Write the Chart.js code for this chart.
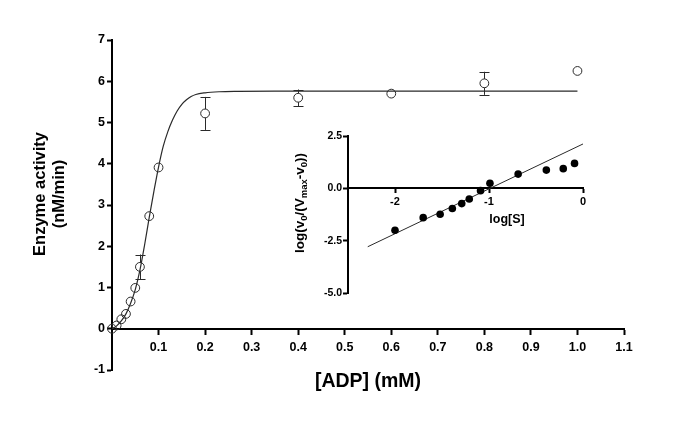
<!DOCTYPE html>
<html><head><meta charset="utf-8">
<script src="https://cdn.jsdelivr.net/npm/chart.js@4.4.1/dist/chart.umd.min.js"></script>
<style>
html,body{margin:0;padding:0;background:#fff;}
#wrap{position:relative;width:685px;height:422px;}
canvas{position:absolute;left:0;top:0;}
</style></head><body>
<div id="wrap"><canvas id="main" width="685" height="422" style="width:685px;height:422px"></canvas><canvas id="inset" width="685" height="422" style="width:685px;height:422px;pointer-events:none"></canvas></div>
<script>
// ---- Main plot data ----
const adp      = [0, 0.01, 0.02, 0.03, 0.04, 0.05, 0.06, 0.08, 0.1, 0.2, 0.4, 0.6, 0.8, 1.0];
const activity = [0, 0.08, 0.23, 0.36, 0.66, 0.99, 1.50, 2.73, 3.91, 5.22, 5.60, 5.70, 5.95, 6.25];
const errBar   = [0, 0, 0, 0, 0, 0, 0.30, 0, 0, 0.40, 0.20, 0, 0.28, 0];
// fitted curve
const fitX = [0, 0.01, 0.02, 0.03, 0.04, 0.05, 0.06, 0.07, 0.08, 0.09, 0.1, 0.11, 0.12, 0.13, 0.14, 0.15, 0.16, 0.17, 0.18, 0.2, 0.23, 0.27, 0.35, 0.5, 1.0];
const fitY = [0, 0.07, 0.19, 0.36, 0.62, 0.95, 1.42, 2.03, 2.70, 3.33, 3.92, 4.42, 4.78, 5.06, 5.28, 5.44, 5.55, 5.63, 5.68, 5.72, 5.745, 5.755, 5.76, 5.76, 5.76];
const mainXTicks = [0.1, 0.2, 0.3, 0.4, 0.5, 0.6, 0.7, 0.8, 0.9, 1.0, 1.1];
const mainYTicks = [-1, 0, 1, 2, 3, 4, 5, 6, 7];

// ---- Inset (Hill plot) data ----
const logS     = [-2.00, -1.70, -1.52, -1.39, -1.29, -1.21, -1.09, -0.99, -0.69, -0.39, -0.21, -0.09];
const logRatio = [-2.00, -1.40, -1.24, -0.96, -0.73, -0.51, -0.11, 0.24, 0.68, 0.87, 0.94, 1.19];
const hillLineX = [-2.29, 0];
const hillLineY = [-2.79, 2.12];
const insetXTicks = [-2, -1, 0];
const insetYTicks = [-5, -2.5, 0, 2.5];

// ---- Text ----
const mainYTitle = ['Enzyme activity', '(nM/min)'];
const mainXTitle = '[ADP] (mM)';
const insetXTitle = 'log[S]';
const insetYTitleRuns = [['log(v', 0], ['0', 1], ['/(V', 0], ['max', 1], ['-v', 0], ['0', 1], ['))', 0]];

const FONT = "'Liberation Sans', Arial, Helvetica, sans-serif";
const INK = '#000';
const LINE = '#2a2a2a';

function pts(xs, ys) { return xs.map((x, i) => ({x: x, y: ys[i]})); }

const errorBarPlugin = {
  id: 'errorBars',
  afterDatasetsDraw(chart) {
    const ctx = chart.ctx, xs = chart.scales.x, ys = chart.scales.y;
    const r = 4.4;
    ctx.save();
    ctx.strokeStyle = LINE; ctx.lineWidth = 1;
    adp.forEach((xv, i) => {
      const e = errBar[i];
      if (!e) return;
      const px = Math.round(xs.getPixelForValue(xv)) + 0.5;
      const pc = ys.getPixelForValue(activity[i]);
      const pt = ys.getPixelForValue(activity[i] + e);
      const pb = ys.getPixelForValue(activity[i] - e);
      ctx.beginPath();
      ctx.moveTo(px, pt); ctx.lineTo(px, pc - r);
      ctx.moveTo(px, pc + r); ctx.lineTo(px, pb);
      ctx.moveTo(px - 5, Math.round(pt) + 0.5); ctx.lineTo(px + 5, Math.round(pt) + 0.5);
      ctx.moveTo(px - 5, Math.round(pb) + 0.5); ctx.lineTo(px + 5, Math.round(pb) + 0.5);
      ctx.stroke();
    });
    ctx.restore();
  }
};

const mainTitlePlugin = {
  id: 'mainTitles',
  afterDraw(chart) {
    const ctx = chart.ctx, a = chart.chartArea;
    ctx.save();
    ctx.fillStyle = INK;
    // y title (rotated)
    ctx.font = 'bold 16.5px ' + FONT;
    ctx.textAlign = 'center'; ctx.textBaseline = 'alphabetic';
    ctx.translate(0, 194);
    ctx.rotate(-Math.PI / 2);
    ctx.fillText(mainYTitle[0], 0, 45);
    ctx.fillText(mainYTitle[1], 0, 64);
    ctx.setTransform(1, 0, 0, 1, 0, 0);
    // x title
    ctx.font = 'bold 19.5px ' + FONT;
    ctx.fillText(mainXTitle, (a.left + a.right) / 2, 387);
    ctx.restore();
  }
};

const insetTitlePlugin = {
  id: 'insetTitles',
  afterDraw(chart) {
    const ctx = chart.ctx;
    ctx.save();
    ctx.fillStyle = INK;
    ctx.textBaseline = 'alphabetic';
    ctx.font = 'bold 12.5px ' + FONT;
    ctx.textAlign = 'center';
    ctx.fillText(insetXTitle, 507, 223);
    // rotated y title with subscripts
    const big = 'bold 13.5px ' + FONT, small = 'bold 9.5px ' + FONT;
    let total = 0;
    insetYTitleRuns.forEach(([t, sub]) => { ctx.font = sub ? small : big; total += ctx.measureText(t).width; });
    ctx.translate(0, 203);
    ctx.rotate(-Math.PI / 2);
    ctx.textAlign = 'left';
    let cx = -total / 2;
    insetYTitleRuns.forEach(([t, sub]) => {
      ctx.font = sub ? small : big;
      ctx.fillText(t, cx, sub ? 307 : 304);
      cx += ctx.measureText(t).width;
    });
    ctx.restore();
  }
};

Chart.defaults.font.family = FONT;
Chart.defaults.color = INK;

new Chart(document.getElementById('main'), {
  type: 'scatter',
  data: {
    datasets: [
      {
        data: pts(fitX, fitY), showLine: true, borderColor: LINE, borderWidth: 1.2,
        pointRadius: 0, cubicInterpolationMode: 'monotone', clip: false, order: 2
      },
      {
        data: pts(adp, activity), showLine: false, pointStyle: 'circle', pointRadius: 4.4,
        pointBorderWidth: 1, pointBorderColor: LINE, pointBackgroundColor: 'rgba(0,0,0,0)',
        clip: false, order: 1
      }
    ]
  },
  options: {
    responsive: false, animation: false, devicePixelRatio: 1,
    layout: { padding: { left: 0, top: 40, right: 61, bottom: 52 } },
    plugins: { legend: { display: false }, tooltip: { enabled: false } },
    scales: {
      x: {
        type: 'linear', min: 0, max: 1.1, position: { y: 0 },
        afterFit(s) { s.height = 0; },
        afterBuildTicks(s) { s.ticks = mainXTicks.map(v => ({ value: v })); },
        grid: { drawOnChartArea: false, drawTicks: true, tickLength: 5, tickWidth: 2, tickColor: INK },
        border: { display: true, color: INK, width: 2 },
        ticks: { autoSkip: false, maxRotation: 0, padding: 6, color: INK,
                 font: { size: 12.5, weight: 'bold' }, callback: v => v.toFixed(1) }
      },
      y: {
        type: 'linear', min: -1, max: 7, position: 'left',
        afterFit(s) { s.width = 112; },
        afterBuildTicks(s) { s.ticks = mainYTicks.map(v => ({ value: v })); },
        grid: { drawOnChartArea: false, drawTicks: true, tickLength: 5, tickWidth: 2, tickColor: INK },
        border: { display: true, color: INK, width: 2 },
        ticks: { padding: 2, color: INK, font: { size: 12.5, weight: 'bold' }, callback: v => String(v) }
      }
    }
  },
  plugins: [errorBarPlugin, mainTitlePlugin]
});

new Chart(document.getElementById('inset'), {
  type: 'scatter',
  data: {
    datasets: [
      {
        data: pts(hillLineX, hillLineY), showLine: true, borderColor: LINE, borderWidth: 1,
        pointRadius: 0, clip: false, order: 2
      },
      {
        data: pts(logS, logRatio), showLine: false, pointStyle: 'circle', pointRadius: 3.8,
        pointBorderWidth: 0, pointBackgroundColor: '#000', clip: false, order: 1
      }
    ]
  },
  options: {
    responsive: false, animation: false, devicePixelRatio: 1,
    layout: { padding: { left: 0, top: 136, right: 102, bottom: 129 } },
    plugins: { legend: { display: false }, tooltip: { enabled: false } },
    scales: {
      x: {
        type: 'linear', min: -2.5, max: 0, position: { y: 0 },
        afterFit(s) { s.height = 0; },
        afterBuildTicks(s) { s.ticks = insetXTicks.map(v => ({ value: v })); },
        grid: { drawOnChartArea: false, drawTicks: true, tickLength: 4, tickWidth: 2, tickColor: INK },
        border: { display: true, color: INK, width: 2 },
        ticks: { autoSkip: false, maxRotation: 0, padding: 3, color: INK,
                 font: { size: 11, weight: 'bold' }, callback: v => String(v) }
      },
      y: {
        type: 'linear', min: -5, max: 2.5, position: 'left',
        afterFit(s) { s.width = 348; },
        afterBuildTicks(s) { s.ticks = insetYTicks.map(v => ({ value: v })); },
        grid: { drawOnChartArea: false, drawTicks: true, tickLength: 5, tickWidth: 2, tickColor: INK },
        border: { display: true, color: INK, width: 2 },
        ticks: { padding: 1, color: INK, font: { size: 10.5, weight: 'bold' }, callback: v => v.toFixed(1) }
      }
    }
  },
  plugins: [insetTitlePlugin]
});
</script>
</body></html>
